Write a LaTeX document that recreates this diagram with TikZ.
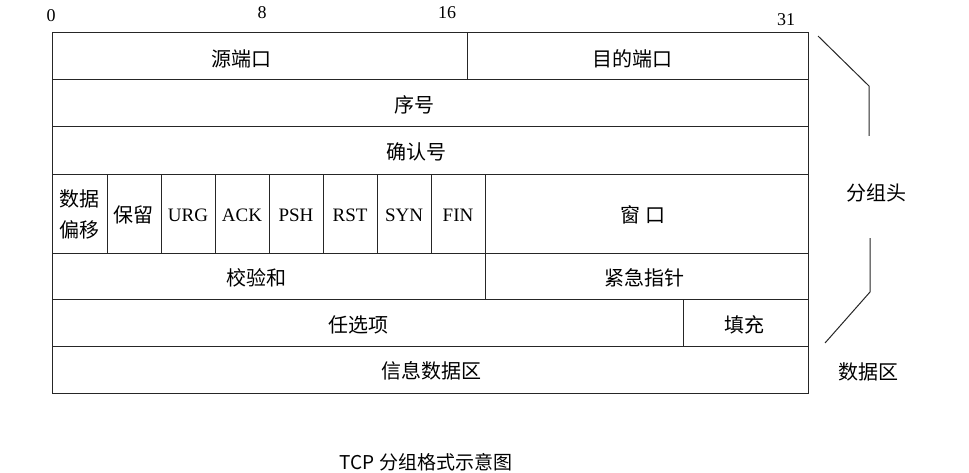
\documentclass[tikz,border=0pt]{standalone}
\usepackage{fontspec}
\setmainfont{Liberation Serif}
\newfontfamily\cjk{Noto Sans CJK SC}

\begin{document}
\begin{tikzpicture}[x=1pt,y=-1pt,
  cell/.style={draw=black!85, line width=1pt},
  zh/.style={font=\cjk\fontsize{20}{31}\selectfont, inner sep=0, align=center},
  en/.style={font=\fontsize{19}{22}\selectfont, inner sep=0},
  bit/.style={font=\fontsize{18}{20}\selectfont, inner sep=0},
  brace/.style={draw=black!85, line width=1pt}]
\useasboundingbox (0,0) rectangle (969,473);
% bit numbers
\foreach \b/\x/\y in {0/51/16,8/262/13,16/447/13,31/786/20}
  \node[bit] (b\b) at (\x,\y) {\b};
% rows of the header
\draw[cell] (52,33) rectangle (467,80);
\draw[cell] (467,33) rectangle (808,80);
\draw[cell] (52,80) rectangle (808,127);
\draw[cell] (52,127) rectangle (808,175);
\draw[cell] (52,175) rectangle (107,253);
\draw[cell] (107,175) rectangle (161,253);
\draw[cell] (485,175) rectangle (808,253);
\draw[cell] (52,253) rectangle (485,299);
\draw[cell] (485,253) rectangle (808,299);
\draw[cell] (52,299) rectangle (683,346);
\draw[cell] (683,299) rectangle (808,346);
\draw[cell] (52,346) rectangle (808,393);
\node[zh] (src) at (241,59) {源端口};
\node[zh] (dst) at (632,59) {目的端口};
\node[zh] (seq) at (414,105) {序号};
\node[zh] (ack) at (416,152) {确认号};
\node[zh] (off) at (79,214) {数据\\偏移};
\node[zh] (rsv) at (133,215) {保留};
% flags
\foreach \f [count=\i] in {URG,ACK,PSH,RST,SYN,FIN} {
  \draw[cell] ({107+54*\i},175) rectangle ++(54,78);
  \node[en] (f\i) at ({134+54*\i},215) {\f};
}
\node[zh] (win) at (643,215) {窗 口};
\node[zh] (chk) at (256,278) {校验和};
\node[zh] (urp) at (644,278) {紧急指针};
\node[zh] (opt) at (358,325) {任选项};
\node[zh] (pad) at (744,325) {填充};
\node[zh] (data) at (431,371) {信息数据区};
% side labels
\node[zh] (hdr) at (876,193) {分组头};
\node[zh] (body) at (868,372) {数据区};
\coordinate (h1) at (818,36);
\coordinate (h2) at (869,86);
\coordinate (h3) at (869,136);
\coordinate (h4) at (870,238);
\coordinate (h5) at (870,292);
\coordinate (h6) at (825,343);
\draw[brace] (h1) -- (h2) -- (h3);
\draw[brace] (h4) -- (h5) -- (h6);
% caption
\node[zh, font=\cjk\fontsize{19}{22}\selectfont] (cap) at (426,462) {TCP 分组格式示意图};
\end{tikzpicture}
\end{document}
